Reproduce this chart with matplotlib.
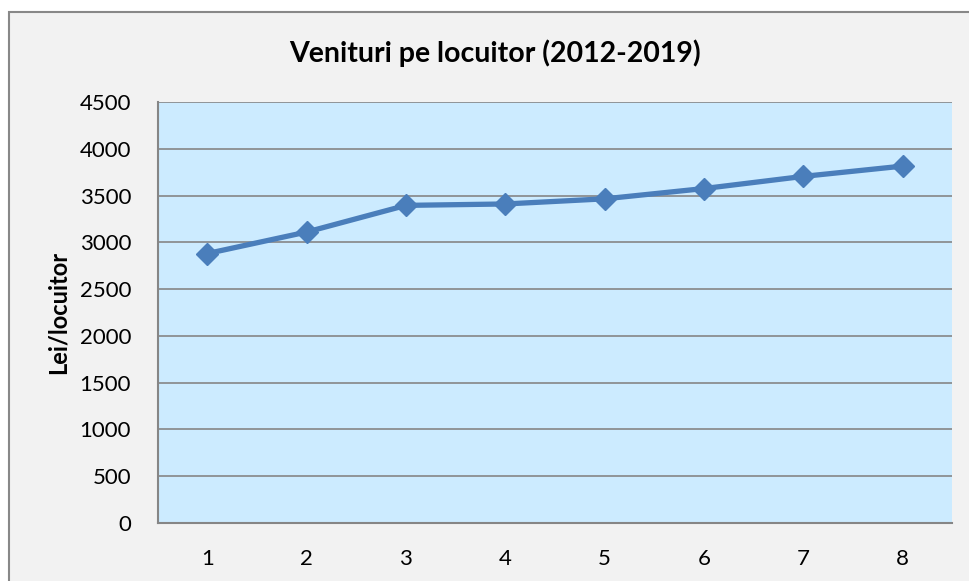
import matplotlib.pyplot as plt
from matplotlib import patches

plt.rcParams['font.family'] = ['Lato', 'DejaVu Sans']

ani = [1, 2, 3, 4, 5, 6, 7, 8]
venituri = [2880, 3110, 3395, 3410, 3465, 3575, 3705, 3815]
yticks = [0, 500, 1000, 1500, 2000, 2500, 3000, 3500, 4000, 4500]

fig = plt.figure(figsize=(9.7, 5.81), dpi=100)
fig.patch.set_facecolor('white')

# chart frame (runs off the right/bottom edge like the original)
rama = patches.Rectangle((9/970, -0.02), 1.0, 1 - 12/581 + 0.02,
                         transform=fig.transFigure, facecolor='#F2F2F2',
                         edgecolor='#888888', lw=1.5, clip_on=False, zorder=-5)
fig.patches.append(rama)

ax = fig.add_axes([157.5/970, 58/581, 795/970, 421/581])
ax.set_facecolor('#CCEBFF')

ax.plot(ani, venituri, color='#4A7EBB', lw=3.8, marker='D', markersize=11,
        zorder=3)

ax.set_xlim(0.5, 8.5)
ax.set_ylim(0, 4500)
ax.set_xticks(ani)
ax.set_yticks(yticks)
ax.yaxis.grid(True, color='#868686', lw=1.2)
ax.set_axisbelow(True)

for s in ['top', 'right']:
    ax.spines[s].set_visible(False)
ax.spines['left'].set_color('#868686')
ax.spines['bottom'].set_color('#868686')
ax.spines['left'].set_linewidth(1.5)
ax.spines['bottom'].set_linewidth(1.5)
ax.tick_params(length=0, labelsize=16)
ax.tick_params(axis='y', pad=19)
ax.tick_params(axis='x', pad=19)

fig.text(495/970, 1 - 53/581, 'Venituri pe locuitor (2012-2019)',
         ha='center', va='center', fontsize=20.5, fontweight='bold')
fig.text(58/970, 1 - 312/581, 'Lei/locuitor', rotation=90,
         ha='center', va='center', fontsize=17, fontweight='bold')

fig.savefig('out.png', dpi=100)
